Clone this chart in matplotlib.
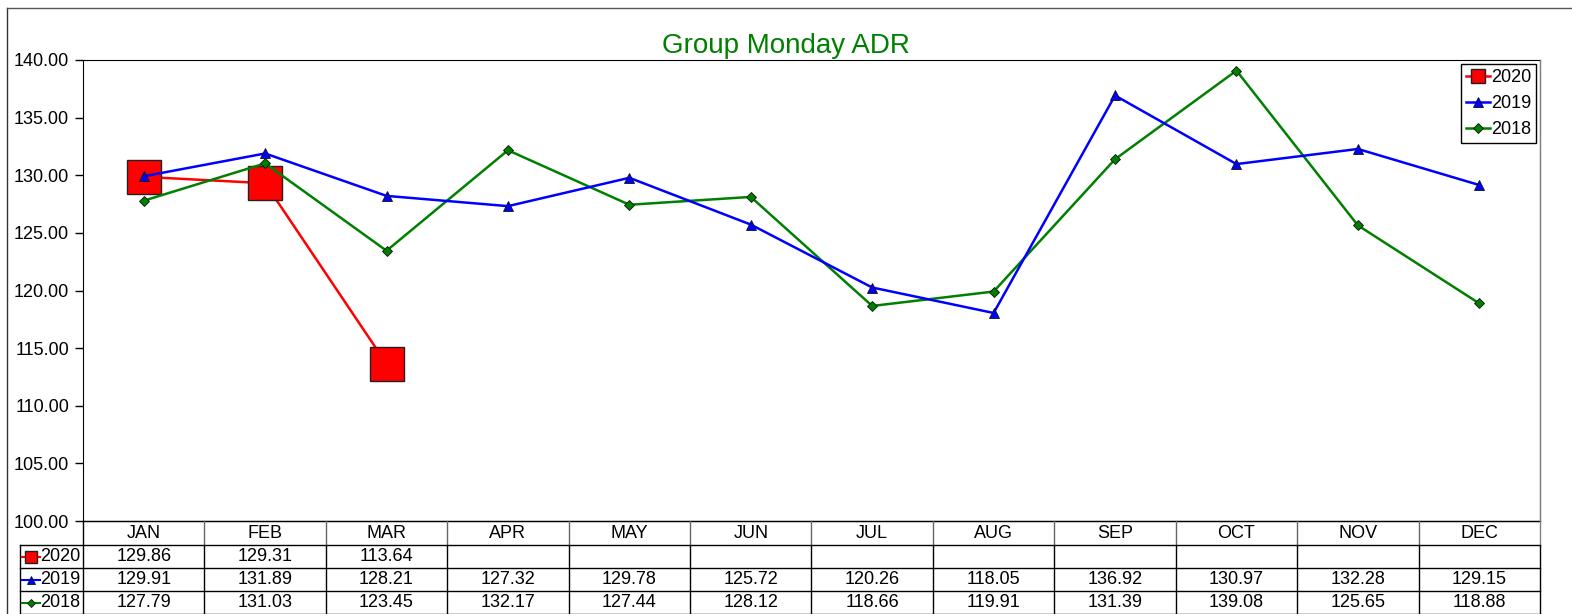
import matplotlib.pyplot as plt
from matplotlib.lines import Line2D

months = ['JAN', 'FEB', 'MAR', 'APR', 'MAY', 'JUN', 'JUL', 'AUG', 'SEP', 'OCT', 'NOV', 'DEC']
adr_2020 = [129.86, 129.31, 113.64]
adr_2019 = [129.91, 131.89, 128.21, 127.32, 129.78, 125.72, 120.26, 118.05, 136.92, 130.97, 132.28, 129.15]
adr_2018 = [127.79, 131.03, 123.45, 132.17, 127.44, 128.12, 118.66, 119.91, 131.39, 139.08, 125.65, 118.88]
years = ['2020', '2019', '2018']

W, H = 1572, 614
fig = plt.figure(figsize=(W / 100, H / 100), dpi=100)
plt.rcParams['font.family'] = ['Liberation Sans', 'DejaVu Sans']

def fx(px):
    return px / W

def fy(py):
    return 1 - py / H

left, right, top, bottom = 83, 1540, 60, 521
ax = fig.add_axes([fx(left), fy(bottom), fx(right - left), fy(top) - fy(bottom)])

styles = {
    '2020': dict(color='red', marker='s', ms=25, mfc='red', mec='#222222', mew=1.0),
    '2019': dict(color='blue', marker='^', ms=7, mfc='blue', mec='#111111', mew=0.6),
    '2018': dict(color='green', marker='D', ms=5, mfc='green', mec='#111111', mew=0.6),
}
series = {'2020': adr_2020, '2019': adr_2019, '2018': adr_2018}

for yr in ['2018', '2019', '2020']:
    vals = series[yr]
    ax.plot(range(len(vals)), vals, lw=1.8, zorder=3 if yr != '2020' else 2, **styles[yr])

ax.set_xlim(-0.5, 11.5)
ax.set_ylim(100, 140)
ax.set_yticks(range(100, 141, 5))
ax.set_yticklabels([f'{v:.2f}' for v in range(100, 141, 5)], fontsize=13)
ax.tick_params(axis='y', direction='out', length=6, width=1, pad=4)
ax.set_xticks([])
ax.spines['right'].set_color('#808080')
for s in ['top', 'left', 'bottom']:
    ax.spines[s].set_color('black')

# legend with smaller squares
handles = []
for yr in years:
    st = dict(styles[yr])
    if yr == '2020':
        st['ms'] = 10
    handles.append(Line2D([], [], lw=1.8, **st))
leg = ax.legend(handles, years, loc='upper right', fontsize=13, handlelength=1.3,
                handletextpad=0.05, borderpad=0.3, labelspacing=0.5,
                fancybox=False, framealpha=1, borderaxespad=0.2)
leg.get_frame().set_edgecolor('black')
leg.get_frame().set_linewidth(1)

fig.text(0.5, fy(46), 'Group Monday ADR', ha='center', va='center', fontsize=20, color='#008000')

# outer frame
fig.add_artist(Line2D([fx(7), fx(7)], [fy(8), fy(614)], color='#333333', lw=1))
fig.add_artist(Line2D([fx(7), 1], [fy(8), fy(8)], color='#555555', lw=1))

# data table under the plot
col_w = (right - left) / 12
rows_y = [521, 545, 568, 591, 614]
label_left = 20

def hline(y, x0, x1, c='black'):
    fig.add_artist(Line2D([fx(x0), fx(x1)], [fy(y), fy(y)], color=c, lw=1))

def vline(x, y0, y1, c='black'):
    fig.add_artist(Line2D([fx(x), fx(x)], [fy(y0), fy(y1)], color=c, lw=1))

hline(rows_y[0], left, right)
for y in rows_y[1:]:
    hline(y, label_left, right)
vline(label_left, rows_y[1], rows_y[-1])
vline(left, rows_y[0], rows_y[-1])
for i in range(1, 12):
    x = left + i * col_w
    vline(x, rows_y[0], rows_y[1], c='#666666')
    vline(x, rows_y[1], rows_y[-1])
vline(right, top, rows_y[1], c='#808080')
vline(right, rows_y[1], rows_y[-1])

for i, m in enumerate(months):
    fig.text(fx(left + (i + 0.5) * col_w), fy((rows_y[0] + rows_y[1]) / 2), m,
             ha='center', va='center', fontsize=13)

for r, yr in enumerate(years):
    yc = (rows_y[r + 1] + rows_y[r + 2]) / 2
    st = dict(styles[yr])
    st['ms'] = 9 if yr == '2020' else st['ms'] * 0.9
    fig.add_artist(Line2D([fx(22), fx(40)], [fy(yc), fy(yc)], lw=1.5, color=st['color']))
    fig.add_artist(Line2D([fx(31)], [fy(yc)], lw=0, **st))
    fig.text(fx(40), fy(yc), yr, ha='left', va='center', fontsize=13)
    for i, v in enumerate(series[yr]):
        fig.text(fx(left + (i + 0.5) * col_w), fy(yc), f'{v:.2f}',
                 ha='center', va='center', fontsize=13)

fig.savefig('out.png', dpi=100)
